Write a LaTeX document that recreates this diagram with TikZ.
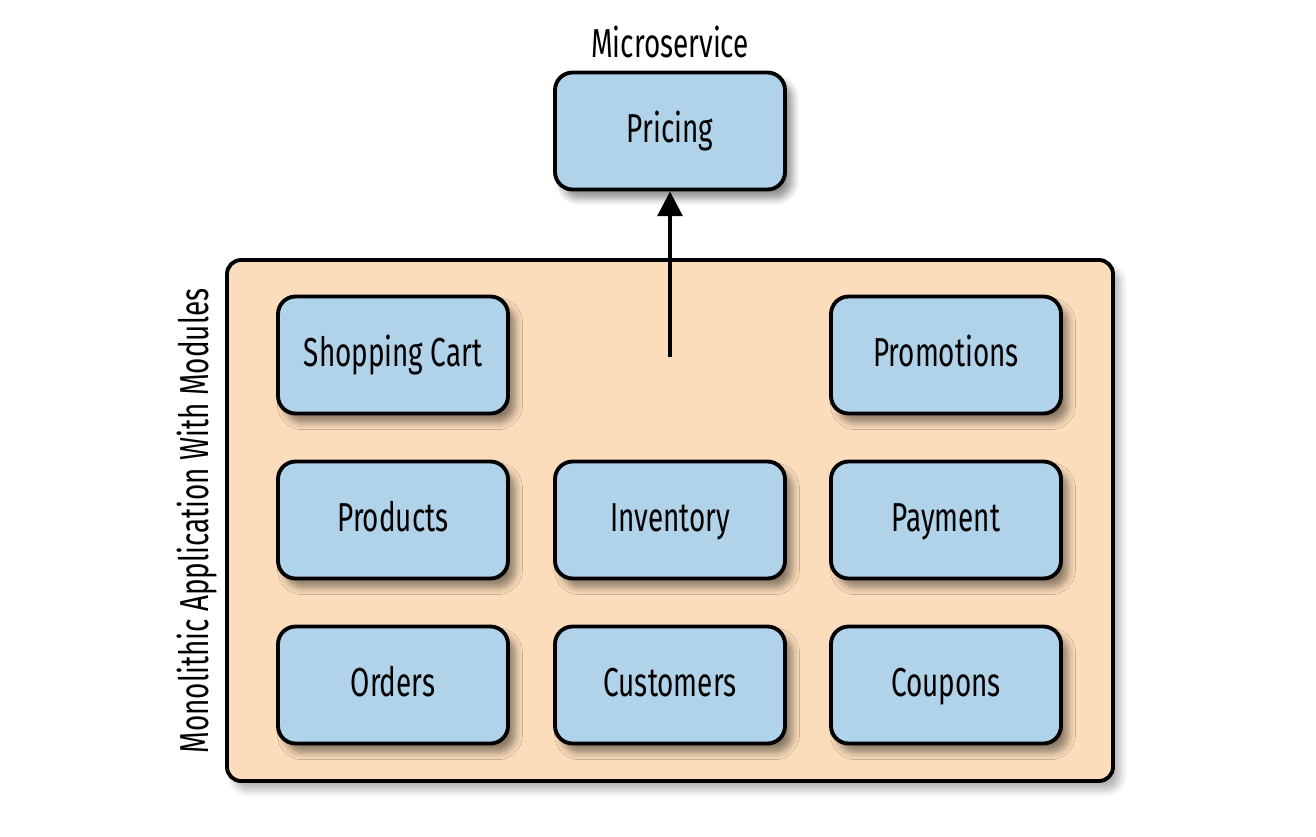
\documentclass[tikz,border=0pt]{standalone}
\usepackage{fontspec}
\setmainfont{Fira Sans}[FakeStretch=0.69]
\usetikzlibrary{arrows.meta, shadows.blur}

\definecolor{modblue}{HTML}{B0D3EA}
\definecolor{monoorange}{HTML}{FCDDBB}

\begin{document}
\begin{tikzpicture}[x=0.1mm, y=-0.1mm,
    module/.style={draw, line width=1.1pt, fill=modblue, rounded corners=5pt,
        minimum width=23mm, minimum height=11.7mm, text height=1.75ex, text depth=0.5ex,
        blur shadow={shadow xshift=2pt, shadow yshift=-2.5pt, shadow opacity=45, shadow blur steps=6},
        font=\fontsize{11.5}{13}\selectfont},
    mono/.style={draw, line width=1.1pt, fill=monoorange, rounded corners=4pt,
        blur shadow={shadow xshift=2pt, shadow yshift=-2.5pt, shadow opacity=30, shadow blur steps=6}},
    caption/.style={font=\fontsize{11.5}{13}\selectfont}]
    \useasboundingbox (0,0) rectangle (1316,836);

    % the monolith
    \node (mono) [mono, minimum width=88.6mm, minimum height=52.1mm] at (670,520.5) {};
    \node (monolabel) [caption, rotate=90] at (197,521) {Monolithic Application With Modules};

    % modules
    \node (cart) [module] at (393,355) {Shopping Cart};
    \node (promo) [module] at (946,355) {Promotions};
    \node (products) [module] at (393,520) {Products};
    \node (inventory) [module] at (670,520) {Inventory};
    \node (payment) [module] at (946,520) {Payment};
    \node (orders) [module] at (393,685) {Orders};
    \node (customers) [module] at (670,685) {Customers};
    \node (coupons) [module] at (946,685) {Coupons};

    % extracted service
    \node (pricing) [module] at (670,131) {Pricing};
    \node (msLabel) [caption] at (670,42) {Microservice};

    \coordinate (from) at (670,357);
    \path [-{Triangle[width=7pt, length=7pt]}, line width=1.1pt]
        (from) edge (pricing);
\end{tikzpicture}
\end{document}
